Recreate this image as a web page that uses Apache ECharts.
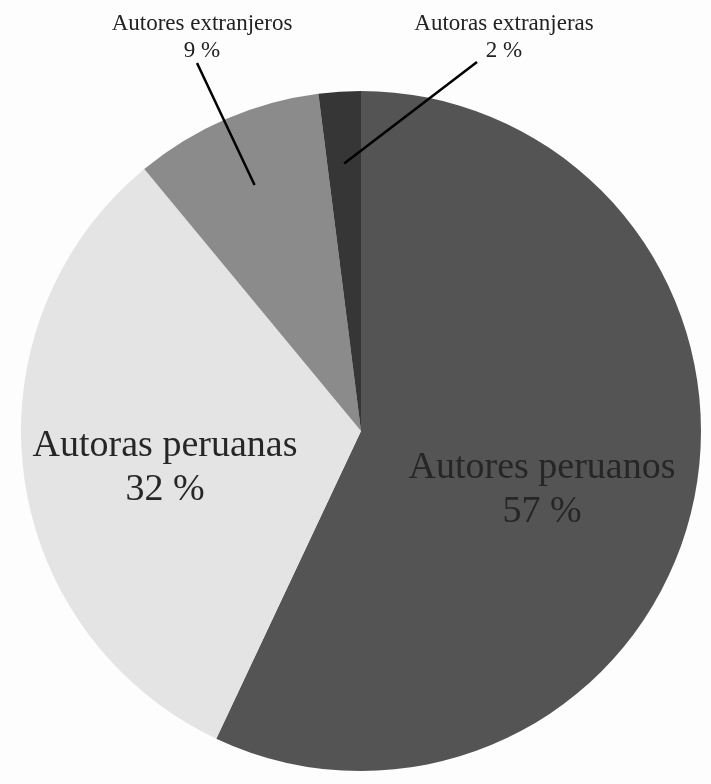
<!DOCTYPE html>
<html>
<head>
<meta charset="utf-8">
<script src="https://cdn.jsdelivr.net/npm/echarts@6/dist/echarts.min.js"></script>
<style>
  html, body { margin: 0; padding: 0; background: #fdfdfd; }
  #chart { width: 711px; height: 784px; }
</style>
</head>
<body>
<div id="chart"></div>
<script>
// ---- data ----
const categories = ['Autores peruanos', 'Autoras peruanas', 'Autores extranjeros', 'Autoras extranjeras'];
const values = [57, 32, 9, 2];

// ---- styles / layout ----
const sliceColors = ['#545454', '#e4e4e4', '#8b8b8b', '#363636'];
const insideLabels = [0, 1];     // labels drawn inside the pie
const outsideLabels = [2, 3];    // labels drawn above the pie with leader lines
const labelCenters = [[542, 490], [165, 468], [202, 37], [504, 37]];
const lineEndOffsets = [null, null, [-5, 26], [-27, 25]];
const serif = '"Liberation Serif", "DejaVu Serif", serif';

const chart = echarts.init(document.getElementById('chart'), null, { renderer: 'canvas' });

const mainData = categories.map((name, i) => ({
  name: name,
  value: values[i],
  itemStyle: { color: sliceColors[i] },
  label: { show: insideLabels.includes(i) }
}));

const guideData = categories.map((name, i) => ({
  name: name,
  value: values[i],
  label: { show: outsideLabels.includes(i) },
  labelLine: { show: outsideLabels.includes(i) }
}));

chart.setOption({
  backgroundColor: '#fdfdfd',
  animation: false,
  series: [
    {
      type: 'pie',
      z: 2,
      center: [361, 431],
      radius: 340,
      startAngle: 90,
      clockwise: true,
      avoidLabelOverlap: false,
      silent: true,
      itemStyle: { borderWidth: 0 },
      label: {
        position: 'inside',
        formatter: '{b}\n{c} %',
        fontFamily: serif,
        fontSize: 38,
        lineHeight: 44,
        color: '#262626',
        align: 'center'
      },
      labelLine: { show: false },
      labelLayout: function (p) {
        const c = labelCenters[p.dataIndex];
        return { x: c[0], y: c[1], align: 'center', verticalAlign: 'middle' };
      },
      data: mainData
    },
    {
      type: 'pie',
      z: 10,
      zlevel: 1,
      center: [361, 431],
      radius: 268,
      startAngle: 90,
      clockwise: true,
      avoidLabelOverlap: false,
      silent: true,
      itemStyle: { color: 'rgba(0,0,0,0)' },
      label: {
        position: 'outside',
        formatter: '{b}\n{c} %',
        fontFamily: serif,
        fontSize: 23,
        lineHeight: 27,
        color: '#222222',
        align: 'center'
      },
      labelLine: {
        length: 20,
        length2: 0,
        lineStyle: { color: '#000000', width: 2.5 }
      },
      labelLayout: function (p) {
        const c = labelCenters[p.dataIndex];
        const off = lineEndOffsets[p.dataIndex];
        const res = { x: c[0], y: c[1], align: 'center', verticalAlign: 'middle' };
        if (off && p.labelLinePoints && p.labelLinePoints.length) {
          const start = p.labelLinePoints[0];
          const end = [c[0] + off[0], c[1] + off[1]];
          res.labelLinePoints = [start, [(start[0] + end[0]) / 2, (start[1] + end[1]) / 2], end];
        }
        return res;
      },
      data: guideData
    }
  ]
});
</script>
</body>
</html>
